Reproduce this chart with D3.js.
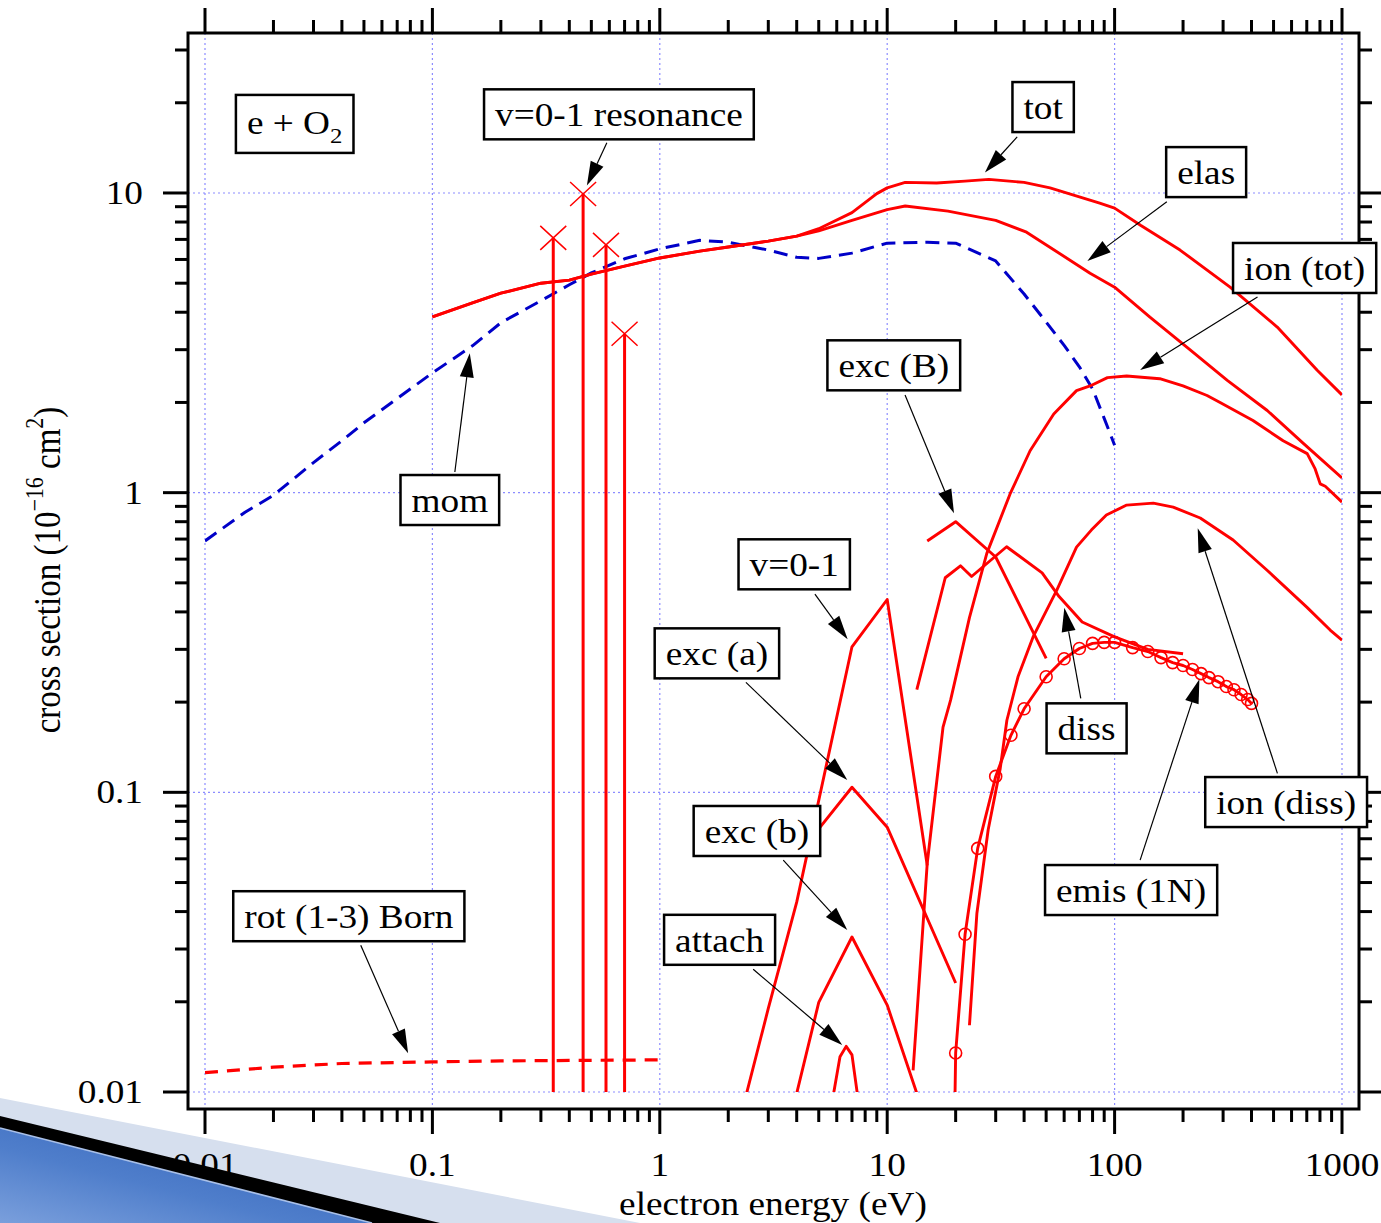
<!DOCTYPE html>
<html>
<head>
<meta charset="utf-8">
<title>e + O2 cross sections</title>
<script src="https://cdn.jsdelivr.net/npm/d3@7/dist/d3.min.js"></script>
<style>
  body { margin: 0; background: #fff; }
  #chart text { font-family: "Liberation Serif", "Times New Roman", serif; fill: #000; }
</style>
</head>
<body>
<svg id="chart" width="1381" height="1223"></svg>
<script>
// energies in eV, cross sections in 1e-16 cm^2
var totE  = [0.1, 0.15, 0.2, 0.3, 0.4, 0.5, 0.7, 1, 1.5, 2, 3, 4, 5, 7, 9, 10, 12, 16.5, 22, 28, 40, 52, 86, 100, 130, 194, 322, 519, 778, 1000];
var totV  = [3.86, 4.30, 4.63, 5.0, 5.12, 5.36, 5.70, 6.07, 6.40, 6.60, 6.91, 7.18, 7.6, 8.6, 9.95, 10.4, 10.85, 10.8, 10.95, 11.1, 10.85, 10.4, 9.25, 8.9, 7.8, 6.45, 4.85, 3.57, 2.56, 2.12];
var elasE = [0.1, 0.15, 0.2, 0.3, 0.4, 0.5, 0.7, 1, 1.5, 2, 3, 4, 5, 7, 10, 12, 18.5, 30, 41, 78, 100, 143, 209, 313, 469, 676, 1000];
var elasV = [3.86, 4.30, 4.63, 5.0, 5.12, 5.36, 5.70, 6.07, 6.40, 6.60, 6.91, 7.18, 7.47, 8.1, 8.8, 9.05, 8.7, 8.1, 7.4, 5.4, 4.85, 3.85, 3.05, 2.37, 1.88, 1.46, 1.12];
var momE  = [0.01, 0.015, 0.02, 0.03, 0.04, 0.05, 0.07, 0.1, 0.15, 0.2, 0.3, 0.4, 0.5, 0.7, 1, 1.5, 2, 3, 4, 5, 7, 10, 15, 20, 30, 40, 50, 60, 70, 80, 90, 100];
var momV  = [0.69, 0.86, 0.98, 1.26, 1.49, 1.71, 2.06, 2.51, 3.09, 3.69, 4.37, 4.94, 5.41, 6.03, 6.51, 6.95, 6.85, 6.45, 6.1, 6.05, 6.3, 6.8, 6.85, 6.8, 5.93, 4.6, 3.71, 3.1, 2.63, 2.22, 1.77, 1.44];
var rotE  = [0.01, 0.02, 0.04, 0.1, 0.2, 1];
var rotV  = [0.0116, 0.0121, 0.01245, 0.0126, 0.0127, 0.0128];
var resE  = [0.34, 0.46, 0.58, 0.70];
var resV  = [7.08, 9.92, 6.71, 3.39];
var v01E  = [2.4, 3, 4, 5, 7, 10, 15];
var v01V  = [0.0098, 0.019, 0.043, 0.094, 0.306, 0.44, 0.057];
var excaE = [5, 7, 10, 20];
var excaV = [0.0755, 0.104, 0.0765, 0.0231];
var excbE = [4, 5, 7, 10, 15];
var excbV = [0.0099, 0.0199, 0.0329, 0.0195, 0.0078];
var attE  = [5.8, 6.2, 6.6, 7.0, 7.4];
var attV  = [0.0098, 0.0131, 0.0142, 0.0133, 0.0098];
var excBE = [15, 20, 30, 50];
var excBV = [0.69, 0.80, 0.61, 0.28];
var dissE = [13.5, 18, 21, 23.5, 33.5, 48, 57, 72, 100, 140, 200];
var dissV = [0.22, 0.52, 0.57, 0.525, 0.66, 0.54, 0.45, 0.37, 0.33, 0.30, 0.29];
var ionTE = [13, 15, 17.6, 19, 23, 27.4, 34.7, 42.5, 54, 68, 78, 93, 113, 158, 200, 255, 291, 406, 551, 703, 762, 802, 844, 1000];
var ionTV = [0.0118, 0.058, 0.165, 0.203, 0.383, 0.626, 0.99, 1.38, 1.83, 2.19, 2.27, 2.42, 2.45, 2.40, 2.27, 2.11, 2.0, 1.74, 1.49, 1.35, 1.2, 1.07, 1.05, 0.93];
var ionDE = [23, 24.8, 27.8, 31.4, 33.6, 37.6, 43.8, 55.7, 68, 79, 92, 113, 148, 181, 238, 332, 467, 700, 887, 1000];
var ionDV = [0.0167, 0.0395, 0.075, 0.12, 0.174, 0.243, 0.33, 0.473, 0.658, 0.75, 0.842, 0.909, 0.923, 0.895, 0.823, 0.695, 0.552, 0.415, 0.348, 0.322];
var emisE = [19, 20, 22, 25, 30, 35, 40, 50, 60, 70, 80, 90, 100, 120, 140, 160, 180, 200, 220, 240, 260, 285, 310, 335, 360, 385, 400];
var emisV = [0.001, 0.0135, 0.0336, 0.065, 0.113, 0.155, 0.19, 0.243, 0.279, 0.302, 0.314, 0.3165, 0.3165, 0.304, 0.295, 0.2815, 0.271, 0.265, 0.257, 0.249, 0.2415, 0.234, 0.2254, 0.220, 0.212, 0.204, 0.198];

var xTickVals = [0.01, 0.1, 1, 10, 100, 1000];
var xTickText = ['0.01', '0.1', '1', '10', '100', '1000'];
var yTickVals = [0.01, 0.1, 1, 10];
var yTickText = ['0.01', '0.1', '1', '10'];

// label boxes: text, box centre, arrow tail, arrow tip (all in data units)
var notes = [
  {t: 'v=0-1 resonance', at: [0.661, 18.3],  tail: [0.585, 14.7],  tip: [0.478, 10.6]},
  {t: 'tot',             at: [48.5, 19.35],  tail: [37.3, 15.4],   tip: [26.9, 11.7]},
  {t: 'elas',            at: [252.7, 11.74], tail: [169.7, 9.35],  tip: [75.9, 5.93]},
  {t: 'ion (tot)',       at: [685, 5.62],    tail: [425, 4.5],     tip: [129.5, 2.565]},
  {t: 'exc (B)',         at: [10.69, 2.66],  tail: [11.98, 2.117], tip: [19.67, 0.853]},
  {t: 'mom',             at: [0.1193, 0.945],tail: [0.1255, 1.172],tip: [0.146, 2.916]},
  {t: 'v=0-1',           at: [3.90, 0.5766], tail: [4.81, 0.4588], tip: [6.70, 0.324]},
  {t: 'exc (a)',         at: [1.783, 0.2909],tail: [2.392, 0.2328],tip: [6.675, 0.1099]},
  {t: 'diss',            at: [75.3, 0.1635], tail: [71.0, 0.2059], tip: [60.1, 0.413]},
  {t: 'ion (diss)',      at: [568, 0.0928],  tail: [520, 0.1157],  tip: [232, 0.76]},
  {t: 'exc (b)',         at: [2.674, 0.0743],tail: [3.49, 0.0594], tip: [6.675, 0.0347]},
  {t: 'emis (1N)',       at: [118.2, 0.0472],tail: [129.5, 0.0594],tip: [236, 0.2383]},
  {t: 'rot (1-3) Born',  at: [0.0429, 0.0386],tail: [0.0484, 0.0309],tip: [0.0782, 0.01346]},
  {t: 'attach',          at: [1.832, 0.0322],tail: [2.575, 0.02568],tip: [6.34, 0.01435]}
];

var svg = d3.select('#chart');
var x = d3.scaleLog().domain([0.01, 1000]).range([205, 1342]);
var y = d3.scaleLog().domain([0.01, 30]).range([1092, 50]);
var pad = 17;
var fx0 = x.range()[0] - pad, fx1 = x.range()[1] + pad;
var fy0 = y.range()[1] - pad, fy1 = y.range()[0] + pad;
var SX = 1.13;   // the original glyphs are a bit wide
var FS = 33;

function zip(a, b) { return a.map(function(v, i) { return [v, b[i]]; }); }
function isMajor(t) { var l = Math.log10(t); return Math.abs(l - Math.round(l)) < 1e-6; }
function putText(sel, px, py, str, anchor, size) {
  return sel.append('text')
    .attr('transform', 'translate(' + px + ',' + py + ') scale(' + SX + ',1)')
    .attr('text-anchor', anchor)
    .attr('font-size', size)
    .text(str);
}

// slide decoration (light band under the labels)
var defs = svg.append('defs');
defs.append('clipPath').attr('id', 'plotclip').append('rect')
  .attr('x', x.range()[0]).attr('y', y.range()[1])
  .attr('width', x.range()[1] - x.range()[0]).attr('height', y.range()[0] - y.range()[1]);
var grad = defs.append('linearGradient').attr('id', 'bluegrad')
  .attr('x1', '1').attr('y1', '0').attr('x2', '0').attr('y2', '1');
grad.append('stop').attr('offset', '0').attr('stop-color', '#2f5fb8');
grad.append('stop').attr('offset', '0.6').attr('stop-color', '#4f7ecb');
grad.append('stop').attr('offset', '1').attr('stop-color', '#7a9fdc');

svg.append('polygon').attr('points', '0,1098 640,1223 0,1223').attr('fill', '#d6dfee');

// grid
var grid = svg.append('g').attr('stroke', '#8c8cff').attr('stroke-width', 1.2).attr('stroke-dasharray', '2,3');
grid.selectAll('.gx').data(xTickVals).enter().append('line')
  .attr('x1', function(d) { return x(d); }).attr('x2', function(d) { return x(d); })
  .attr('y1', fy0).attr('y2', fy1);
grid.selectAll('.gy').data(yTickVals).enter().append('line')
  .attr('y1', function(d) { return y(d); }).attr('y2', function(d) { return y(d); })
  .attr('x1', fx0).attr('x2', fx1);

// curves
var line = d3.line().x(function(d) { return x(d[0]); }).y(function(d) { return y(d[1]); });
var plot = svg.append('g').attr('clip-path', 'url(#plotclip)').attr('fill', 'none');

function curve(E, V, color, dash, w) {
  var p = plot.append('path').attr('d', line(zip(E, V)))
    .attr('stroke', color).attr('stroke-width', w || 2.9).attr('stroke-linejoin', 'round');
  if (dash) p.attr('stroke-dasharray', dash);
  return p;
}

curve(momE, momV, '#0000c8', '14,8', 3);
curve(rotE, rotV, '#ff0000', '13,9', 3.2);
curve(totE, totV, '#ff0000');
curve(elasE, elasV, '#ff0000');
curve(v01E, v01V, '#ff0000');
curve(excaE, excaV, '#ff0000');
curve(excbE, excbV, '#ff0000');
curve(attE, attV, '#ff0000');
curve(excBE, excBV, '#ff0000');
curve(dissE, dissV, '#ff0000');
curve(ionTE, ionTV, '#ff0000');
curve(ionDE, ionDV, '#ff0000');
curve(emisE, emisV, '#ff0000');

plot.selectAll('.emis').data(zip(emisE, emisV)).enter().append('circle')
  .attr('cx', function(d) { return x(d[0]); }).attr('cy', function(d) { return y(d[1]); })
  .attr('r', 6).attr('stroke', '#ff0000').attr('stroke-width', 1.6);

// v=0-1 resonance sticks with X markers
var res = zip(resE, resV);
plot.selectAll('.stick').data(res).enter().append('line')
  .attr('x1', function(d) { return x(d[0]); }).attr('x2', function(d) { return x(d[0]); })
  .attr('y1', function(d) { return y(d[1]); }).attr('y2', y.range()[0])
  .attr('stroke', '#ff0000').attr('stroke-width', 3);
svg.selectAll('.xmark').data(res).enter().append('path')
  .attr('transform', function(d) { return 'translate(' + x(d[0]) + ',' + y(d[1]) + ')'; })
  .attr('d', 'M-13,-12L13,12M-13,12L13,-12')
  .attr('stroke', '#ff0000').attr('stroke-width', 1.5).attr('fill', 'none');

// frame and ticks
svg.append('rect').attr('x', fx0).attr('y', fy0).attr('width', fx1 - fx0).attr('height', fy1 - fy0)
  .attr('fill', 'none').attr('stroke', '#000').attr('stroke-width', 3);

var ticks = svg.append('g').attr('stroke', '#000').attr('stroke-width', 3);
var TL = 25, TS = 13;
x.ticks().forEach(function(t) {
  var len = isMajor(t) ? TL : TS, px = x(t);
  ticks.append('line').attr('x1', px).attr('x2', px).attr('y1', fy1).attr('y2', fy1 + len);
  ticks.append('line').attr('x1', px).attr('x2', px).attr('y1', fy0).attr('y2', fy0 - len);
});
y.ticks().forEach(function(t) {
  var len = isMajor(t) ? TL : TS, py = y(t);
  ticks.append('line').attr('y1', py).attr('y2', py).attr('x1', fx0).attr('x2', fx0 - len);
  ticks.append('line').attr('y1', py).attr('y2', py).attr('x1', fx1).attr('x2', fx1 + len);
});

// tick labels
xTickVals.forEach(function(v, i) { putText(svg, x(v), 1176, xTickText[i], 'middle', FS); });
yTickVals.forEach(function(v, i) { putText(svg, 143, y(v) + 11, yTickText[i], 'end', FS); });

// axis titles
putText(svg, 773, 1215, 'electron energy (eV)', 'middle', FS);
var yt = svg.append('text')
  .attr('transform', 'translate(60,570) rotate(-90) scale(1,' + SX + ')')
  .attr('text-anchor', 'middle').attr('font-size', FS);
yt.append('tspan').text('cross section (10');
yt.append('tspan').attr('font-size', 22).attr('dy', -15).text('\u221216');
yt.append('tspan').attr('dy', 15).text(' cm');
yt.append('tspan').attr('font-size', 22).attr('dy', -15).text('2');
yt.append('tspan').attr('dy', 15).text(')');

// labelled boxes with arrows
function arrow(g, p0, p1) {
  var dx = p1[0] - p0[0], dy = p1[1] - p0[1], L = Math.sqrt(dx * dx + dy * dy);
  var ux = dx / L, uy = dy / L, hl = 24, hw = 7;
  var bx = p1[0] - ux * hl, by = p1[1] - uy * hl;
  g.append('line').attr('x1', p0[0]).attr('y1', p0[1]).attr('x2', bx).attr('y2', by)
    .attr('stroke', '#000').attr('stroke-width', 1.2);
  g.append('polygon')
    .attr('points', [p1, [bx - uy * hw, by + ux * hw], [bx + uy * hw, by - ux * hw]].map(function(p) { return p.join(','); }).join(' '))
    .attr('fill', '#000');
}

notes.forEach(function(n) {
  var g = svg.append('g');
  var cx = x(n.at[0]), cy = y(n.at[1]);
  arrow(g, [x(n.tail[0]), y(n.tail[1])], [x(n.tip[0]), y(n.tip[1])]);
  var tx = putText(g, cx, cy + 12, n.t, 'middle', FS);
  var w = tx.node().getComputedTextLength() * SX + 22;
  g.insert('rect', 'text').attr('x', cx - w / 2).attr('y', cy - 25).attr('width', w).attr('height', 50)
    .attr('fill', '#fff').attr('stroke', '#000').attr('stroke-width', 2.5);
});

// e + O2 title box
var tg = svg.append('g');
var tcx = x(0.0248), tcy = y(17.0);
var tt = tg.append('text')
  .attr('transform', 'translate(' + tcx + ',' + (tcy + 10) + ') scale(' + SX + ',1)')
  .attr('text-anchor', 'middle').attr('font-size', FS);
tt.append('tspan').text('e + O');
tt.append('tspan').attr('font-size', 22).attr('dy', 9).text('2');
var tw = tt.node().getComputedTextLength() * SX + 22;
tg.insert('rect', 'text').attr('x', tcx - tw / 2).attr('y', tcy - 29).attr('width', tw).attr('height', 58)
  .attr('fill', '#fff').attr('stroke', '#000').attr('stroke-width', 2.5);

// slide decoration on top (dark band and blue wedge)
svg.append('polygon').attr('points', '0,1116 440,1223 0,1223').attr('fill', '#000');
svg.append('polygon').attr('points', '0,1128 372,1223 0,1223').attr('fill', 'url(#bluegrad)');
svg.append('line').attr('x1', 0).attr('y1', 1128).attr('x2', 372).attr('y2', 1223)
  .attr('stroke', '#a9c0e8').attr('stroke-width', 1.5);
</script>
</body>
</html>
